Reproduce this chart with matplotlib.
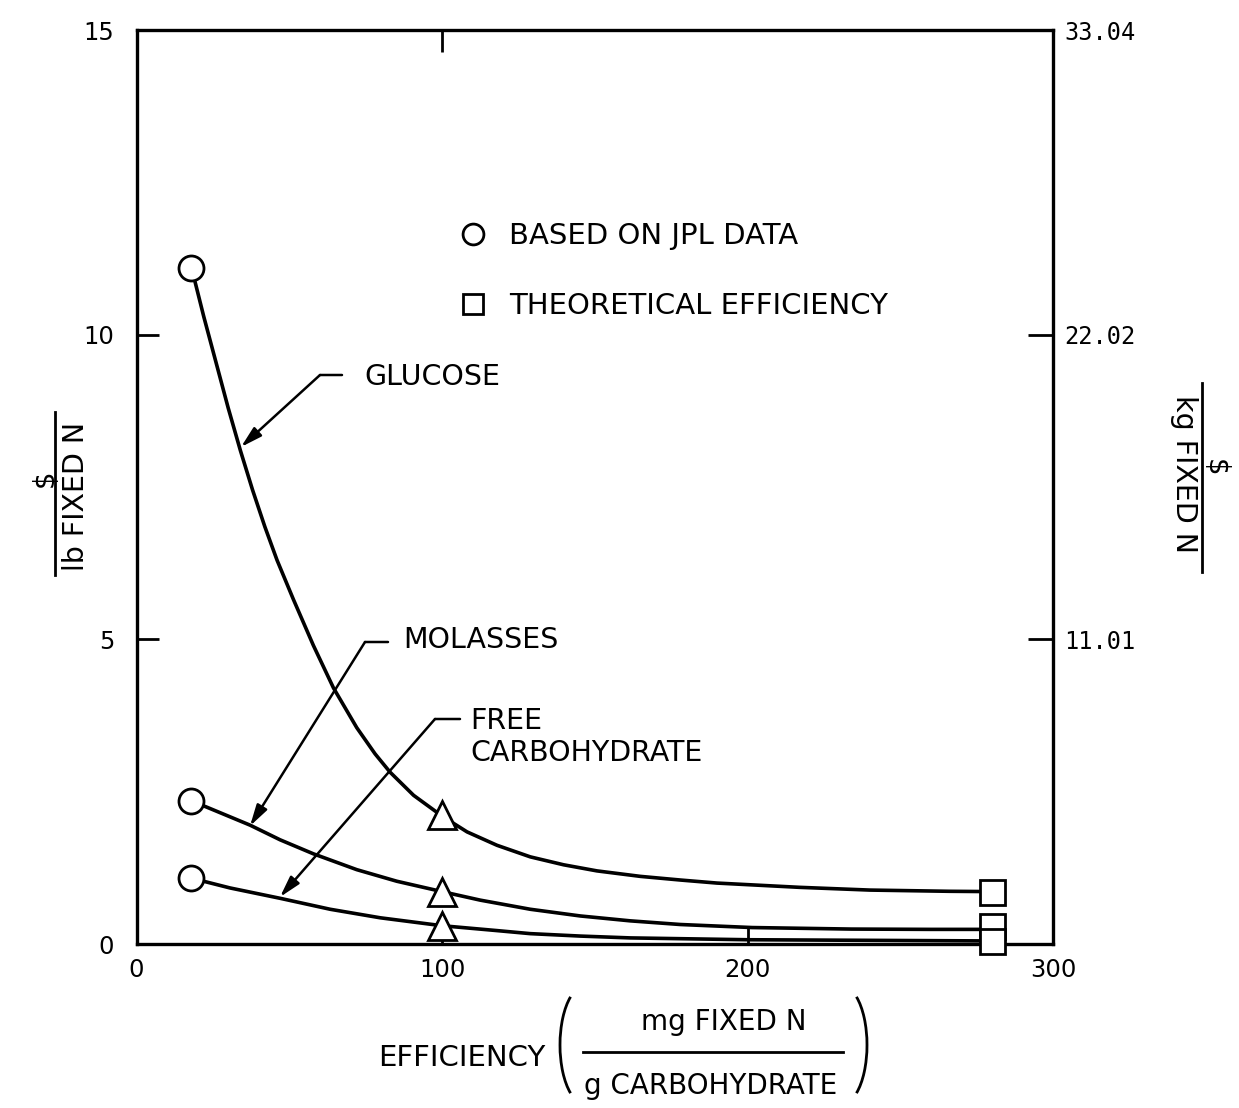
import matplotlib
matplotlib.use("Agg")
import matplotlib.pyplot as plt
from matplotlib.patches import Arc
from matplotlib.lines import Line2D

plt.rcParams['font.family'] = ['DejaVu Sans']

# ---- data ----
x_jpl = [18]
x_tri = [100]
x_theory = [280]

glucose_jpl = [11.1]
glucose_tri = [2.12]
glucose_theory = [0.86]
molasses_jpl = [2.35]
molasses_tri = [0.86]
molasses_theory = [0.30]
free_jpl = [1.08]
free_tri = [0.30]
free_theory = [0.05]

glucose_curve_x = [18, 22, 26, 30, 34, 38, 42, 46, 51.4, 57.9, 64.5, 72.1, 78.1,
                   83.0, 90.7, 100, 108.2, 118, 128.9, 139.8, 150.7, 164.9,
                   178, 190, 217, 240, 266, 280]
glucose_curve_y = [11.1, 10.3, 9.55, 8.8, 8.1, 7.45, 6.85, 6.3, 5.65, 4.9, 4.2, 3.55, 3.12,
                   2.82, 2.44, 2.1, 1.84, 1.62, 1.43, 1.3, 1.2, 1.11,
                   1.05, 1.0, 0.93, 0.885, 0.865, 0.86]

molasses_curve_x = [18, 25.2, 37.2, 47, 57.9, 72.1, 85.2, 100, 112.5, 128.9, 145.3,
                    161.6, 178, 201.5, 234, 260, 280]
molasses_curve_y = [2.35, 2.2, 1.95, 1.71, 1.48, 1.22, 1.03, 0.86, 0.72, 0.57, 0.46,
                    0.38, 0.32, 0.27, 0.245, 0.24, 0.24]

free_curve_x = [18, 30.6, 47, 63.4, 79.8, 100, 118, 128.9, 145.3, 161.6, 200, 240, 280]
free_curve_y = [1.08, 0.92, 0.75, 0.57, 0.43, 0.30, 0.22, 0.17, 0.13, 0.10, 0.07, 0.06, 0.05]

x_ticks = [0, 100, 200, 300]
x_ticklabels = ['0', '100', '200', '300']
y_ticks = [0, 5, 10, 15]
y_ticklabels = ['0', '5', '10', '15']
right_ticks = [11.01, 22.02, 33.04]
right_ticklabels = ['11.01', '22.02', '33.04']
kg_per_lb = 33.04 / 15

W, H = 1239, 1108
def fx(px):
    return px / W
def fy(py):
    return 1 - py / H

fig = plt.figure(figsize=(W / 100, H / 100), dpi=100)
fig.patch.set_facecolor('white')
ax = fig.add_axes([fx(136.5), fy(944), fx(1053) - fx(136.5), fy(30) - fy(944)])
ax.set_xlim(0, 300)
ax.set_ylim(0, 15)

lw = 2.6
for cx, cy in [(glucose_curve_x, glucose_curve_y),
               (molasses_curve_x, molasses_curve_y),
               (free_curve_x, free_curve_y)]:
    ax.plot(cx, cy, color='black', lw=lw, solid_capstyle='round',
            solid_joinstyle='round', zorder=2)

mk = dict(ls='none', mfc='white', mec='black', mew=2.0, zorder=4, clip_on=False)
for xs, ys in [(x_jpl, glucose_jpl), (x_jpl, molasses_jpl), (x_jpl, free_jpl)]:
    ax.plot(xs, ys, marker='o', ms=18, **mk)
for xs, ys in [(x_tri, glucose_tri), (x_tri, molasses_tri), (x_tri, free_tri)]:
    ax.plot(xs, ys, marker='^', ms=20, **mk)
for xs, ys in [(x_theory, glucose_theory), (x_theory, molasses_theory), (x_theory, free_theory)]:
    ax.plot(xs, ys, marker='s', ms=18, **mk)

# spines / ticks
for s in ax.spines.values():
    s.set_linewidth(2.4)
ax.set_xticks(x_ticks)
ax.set_xticklabels(x_ticklabels)
ax.set_yticks(y_ticks)
ax.set_yticklabels(y_ticklabels)
ax.tick_params(axis='y', direction='in', length=16, width=2, labelsize=17.5, pad=16)
ax.tick_params(axis='x', direction='in', length=12, width=2, labelsize=17.5, pad=10)

axt = ax.secondary_xaxis('top')
axt.set_xticks([100])
axt.set_xticklabels([''])
axt.tick_params(direction='in', length=16, width=2)
axt.spines['top'].set_visible(False)

axr = ax.secondary_yaxis('right', functions=(lambda y: y * kg_per_lb, lambda y: y / kg_per_lb))
axr.set_yticks(right_ticks)
axr.set_yticklabels(right_ticklabels)
axr.tick_params(direction='in', length=18, width=2, labelsize=17, pad=8)
axr.spines['right'].set_visible(False)
for t in axr.get_yticklabels():
    t.set_family('DejaVu Sans Mono')

# legend
handles = [Line2D([], [], marker='o', ls='none', mfc='white', mec='black', mew=2, ms=15),
           Line2D([], [], marker='s', ls='none', mfc='white', mec='black', mew=2, ms=15)]
leg = ax.legend(handles, ['BASED ON JPL DATA', 'THEORETICAL EFFICIENCY'],
                loc='upper left', bbox_to_anchor=((455 - 136.5) / 916.5, (944 - 222) / 914),
                frameon=False, fontsize=21, labelspacing=1.43, handletextpad=0.65,
                borderpad=0, borderaxespad=0, handlelength=1.2)

# annotations with leader lines
def px2data(px, py):
    return ((px - 136.5) / 916.5 * 300, (944 - py) / 914 * 15)

def callout(text, tip, bend, end, txt_pos, **kw):
    ax.annotate('', xy=px2data(*tip), xytext=px2data(*bend),
                arrowprops=dict(arrowstyle='-|>,head_length=0.8,head_width=0.22',
                                lw=1.8, color='black', shrinkA=0, shrinkB=0,
                                mutation_scale=16), zorder=3)
    ax.annotate('', xy=px2data(*end), xytext=px2data(*bend),
                arrowprops=dict(arrowstyle='-', lw=1.8, color='black',
                                shrinkA=0, shrinkB=0))
    ax.text(*px2data(*txt_pos), text, fontsize=20.5, ha='left', va='center', **kw)

callout('GLUCOSE', (241, 447), (320, 375), (342, 375), (364, 377))
callout('MOLASSES', (250, 826), (365, 642), (388, 642), (403, 640))
callout('FREE\nCARBOHYDRATE', (280, 897), (435, 719), (460, 719), (470, 737),
        linespacing=1.15)

# left y label: $ / lb FIXED N
fig.text(fx(45), fy(478), '$', rotation=90, fontsize=20, ha='center', va='center')
fig.add_artist(Line2D([fx(55), fx(55)], [fy(412), fy(575)], color='black', lw=2,
                      transform=fig.transFigure))
fig.text(fx(76), fy(496), 'lb FIXED N', rotation=90, fontsize=20.5, ha='center', va='center')

# right y label: $ / kg FIXED N
fig.text(fx(1215), fy(468), '$', rotation=-90, fontsize=20, ha='center', va='center')
fig.add_artist(Line2D([fx(1202), fx(1202)], [fy(383), fy(572)], color='black', lw=2,
                      transform=fig.transFigure))
fig.text(fx(1184), fy(474), 'kg FIXED N', rotation=-90, fontsize=20.5, ha='center', va='center')

# x label: EFFICIENCY ( mg FIXED N / g CARBOHYDRATE )
fig.text(fx(462), fy(1058), 'EFFICIENCY', fontsize=21, ha='center', va='center')
fig.text(fx(724), fy(1022), 'mg FIXED N', fontsize=20, ha='center', va='center')
fig.text(fx(711), fy(1086), 'g CARBOHYDRATE', fontsize=20, ha='center', va='center')
fig.add_artist(Line2D([fx(583), fx(843)], [fy(1052), fy(1052)], color='black', lw=2,
                      transform=fig.transFigure))
fig.add_artist(Arc((fx(585), fy(1045)), 50 / W, 118 / H, theta1=105, theta2=255,
                   lw=2, color='black', transform=fig.transFigure))
fig.add_artist(Arc((fx(842), fy(1045)), 50 / W, 118 / H, theta1=-75, theta2=75,
                   lw=2, color='black', transform=fig.transFigure))

fig.savefig('out.png', dpi=100, facecolor='white')
